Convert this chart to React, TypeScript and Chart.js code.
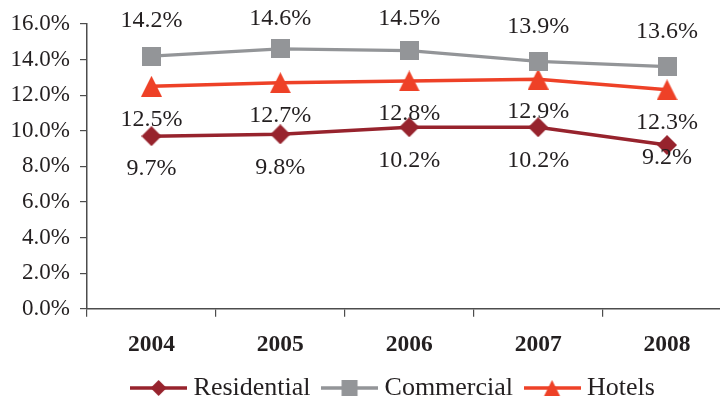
import React, { useEffect, useRef } from 'react';
import { Chart, registerables } from 'chart.js';

Chart.register(...registerables);

// ---- data ----
const years = ['2004', '2005', '2006', '2007', '2008'];
const residential = [9.7, 9.8, 10.2, 10.2, 9.2];
const commercial = [14.2, 14.6, 14.5, 13.9, 13.6];
const hotels = [12.5, 12.7, 12.8, 12.9, 12.3];
const seriesNames = ['Residential', 'Commercial', 'Hotels'];
const yMin = 0;
const yMax = 16;
const yStep = 2;

// ---- style ----
const SERIF = '"Liberation Serif", "Times New Roman", serif';
const TEXT = '#231f20';
const AXIS = '#4d4d4d';
const RED_DARK = '#97232d';
const GRAY = '#939598';
const RED = '#ee4127';
const CANVAS_W = 786;
const CANVAS_H = 399;
const LEGEND_SHIFT_X = 25;

type Shape = 'diamond' | 'square' | 'triangle';

function drawShape(ctx: CanvasRenderingContext2D, shape: Shape, cx: number, cy: number, w: number, h: number) {
  ctx.beginPath();
  if (shape === 'diamond') {
    ctx.moveTo(cx, cy - h / 2);
    ctx.lineTo(cx + w / 2, cy);
    ctx.lineTo(cx, cy + h / 2);
    ctx.lineTo(cx - w / 2, cy);
  } else if (shape === 'square') {
    ctx.rect(cx - w / 2, cy - h / 2, w, h);
  } else {
    ctx.moveTo(cx, cy - h / 2);
    ctx.lineTo(cx + w / 2, cy + h / 2);
    ctx.lineTo(cx - w / 2, cy + h / 2);
  }
  ctx.closePath();
  ctx.fill();
}

// marker image for the plotted points
function markerImage(shape: Shape, w: number, h: number, color: string) {
  const c = document.createElement('canvas');
  c.width = w;
  c.height = h;
  const ctx = c.getContext('2d')!;
  ctx.fillStyle = color;
  drawShape(ctx, shape, w / 2, h / 2, w, h);
  return c;
}

// legend swatch: short line with the marker in the middle
function legendImage(shape: Shape, color: string) {
  const w = 57;
  const h = 20;
  const c = document.createElement('canvas');
  c.width = w;
  c.height = h;
  const ctx = c.getContext('2d')!;
  ctx.strokeStyle = color;
  ctx.lineWidth = 3.5;
  ctx.beginPath();
  ctx.moveTo(0, h / 2);
  ctx.lineTo(w, h / 2);
  ctx.stroke();
  ctx.fillStyle = color;
  drawShape(ctx, shape, w / 2, h / 2, 16, 16);
  return c;
}

// value labels next to each point
const valueLabels = {
  id: 'valueLabels',
  afterDatasetsDraw(chart: any) {
    const { ctx, chartArea } = chart;
    ctx.save();
    ctx.font = `24px ${SERIF}`;
    ctx.fillStyle = TEXT;
    ctx.textAlign = 'center';
    ctx.textBaseline = 'middle';
    chart.data.datasets.forEach((ds: any, i: number) => {
      const meta = chart.getDatasetMeta(i);
      meta.data.forEach((pt: any, j: number) => {
        const shift = ds.labelShift && ds.labelShift[j] != null ? ds.labelShift[j] : ds.labelOffset;
        const y = Math.max(pt.y + shift, chartArea.top - 5);
        ctx.fillText(`${Number(ds.data[j]).toFixed(1)}%`, pt.x, y);
      });
    });
    ctx.restore();
  },
};

// nudge the legend row sideways after layout
const legendNudge = {
  id: 'legendNudge',
  afterLayout(chart: any) {
    const lg = chart.legend;
    if (lg) {
      lg.left += LEGEND_SHIFT_X;
      lg.right += LEGEND_SHIFT_X;
    }
  },
};

export default function App() {
  const ref = useRef<HTMLCanvasElement>(null);

  useEffect(() => {
    if (!ref.current) return;
    const shapes: Shape[] = ['diamond', 'square', 'triangle'];
    const colors = [RED_DARK, GRAY, RED];
    const legendIcons = shapes.map((s, i) => legendImage(s, colors[i]));

    const chart = new Chart(ref.current, {
      type: 'line',
      data: {
        labels: years,
        datasets: [
          {
            label: seriesNames[0],
            data: residential,
            borderColor: RED_DARK,
            backgroundColor: RED_DARK,
            borderWidth: 3.5,
            pointStyle: markerImage('diamond', 20, 20, RED_DARK),
            pointRadius: 10,
            labelOffset: 33,
            labelShift: [null, null, null, null, 13],
          } as any,
          {
            label: seriesNames[1],
            data: commercial,
            borderColor: GRAY,
            backgroundColor: GRAY,
            borderWidth: 3.2,
            pointStyle: markerImage('square', 19, 19, GRAY),
            pointRadius: 10,
            labelOffset: -35,
          } as any,
          {
            label: seriesNames[2],
            data: hotels,
            borderColor: RED,
            backgroundColor: RED,
            borderWidth: 3.5,
            pointStyle: markerImage('triangle', 21, 21, RED),
            pointRadius: 10,
            labelOffset: 33,
          } as any,
        ],
      },
      options: {
        animation: false,
        responsive: false,
        events: [],
        layout: { padding: { left: 10, right: CANVAS_W - 731.5, top: 24, bottom: -12 } },
        scales: {
          x: {
            offset: true,
            grid: { offset: true, drawOnChartArea: false, tickLength: 8, color: AXIS, lineWidth: 1.2 },
            border: { color: AXIS, width: 1.5 },
            ticks: {
              color: TEXT,
              padding: 14,
              maxRotation: 0,
              font: { family: SERIF, size: 23.5, weight: 'bold' },
            },
            afterFit: (s: any) => {
              s.height = s.height - 15;
            },
          },
          y: {
            min: yMin,
            max: yMax,
            grid: { drawOnChartArea: false, tickLength: 7, color: AXIS, lineWidth: 1.2 },
            border: { color: AXIS, width: 1.5 },
            ticks: {
              stepSize: yStep,
              color: TEXT,
              padding: 10,
              font: { family: SERIF, size: 23 },
              callback: (v: any) => `${Number(v).toFixed(1)}%`,
            },
            afterFit: (s: any) => {
              s.width = 77;
            },
          },
        },
        plugins: {
          tooltip: { enabled: false },
          legend: {
            position: 'bottom',
            labels: {
              usePointStyle: true,
              pointStyleWidth: 44,
              padding: 17,
              color: TEXT,
              font: { family: SERIF, size: 26 },
              generateLabels: (c: any) =>
                c.data.datasets.map((ds: any, i: number) => ({
                  text: ds.label,
                  pointStyle: legendIcons[i],
                  fillStyle: colors[i],
                  strokeStyle: colors[i],
                  lineWidth: 0,
                  hidden: false,
                  datasetIndex: i,
                  fontColor: TEXT,
                })),
            },
          },
        },
      } as any,
      plugins: [valueLabels, legendNudge],
    });
    return () => chart.destroy();
  }, []);

  return (
    <div
      style={{
        position: 'fixed',
        left: 0,
        top: 0,
        width: 720,
        height: CANVAS_H,
        overflow: 'hidden',
        background: '#fff',
      }}
    >
      <canvas ref={ref} width={CANVAS_W} height={CANVAS_H} style={{ display: 'block' }} />
    </div>
  );
}
